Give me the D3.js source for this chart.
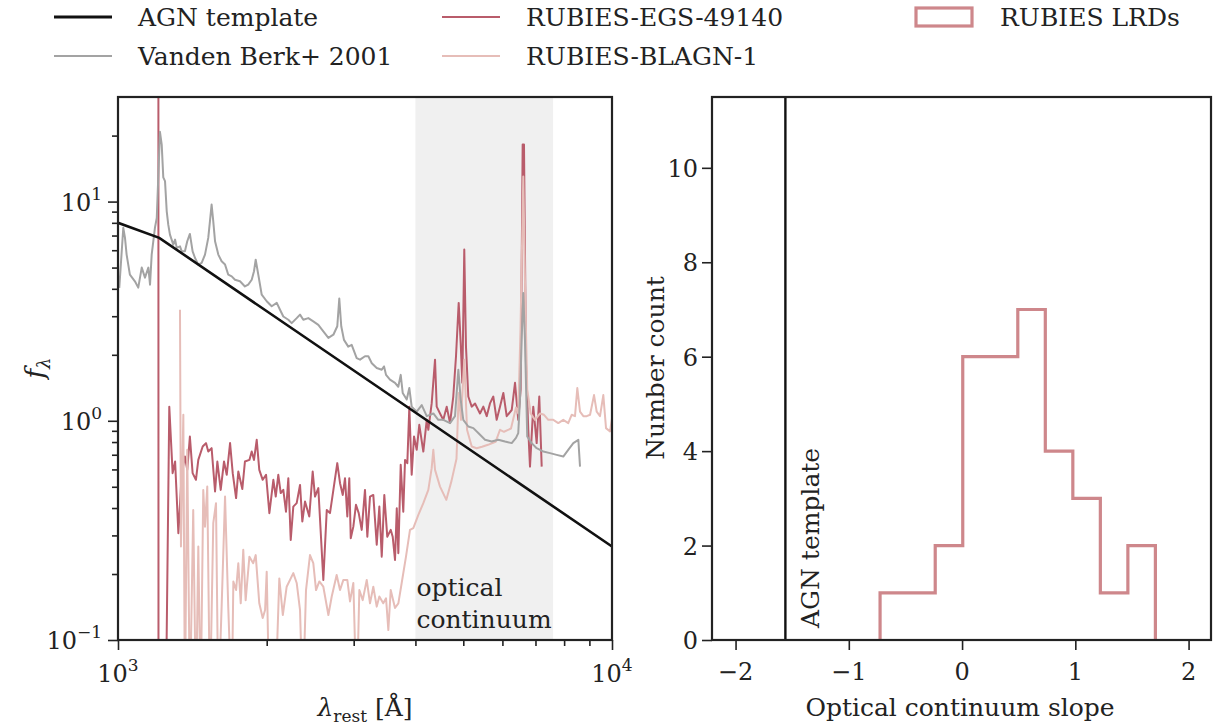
<!DOCTYPE html>
<html>
<head>
<meta charset="utf-8">
<script src="https://cdn.jsdelivr.net/npm/d3@7"></script>
<style>
  body { margin: 0; background: #fff; }
  svg text { font-family: "DejaVu Serif", serif; fill: #222; }
</style>
</head>
<body>
<div id="chart"></div>
<script>
// ---- data ----
const agnTemplate = [[1000, 8.0], [1212, 6.83], [10000, 0.267]];

const vandenBerk = [[1006,4.04],[1025,7.59],[1033,6.85],[1041,5.73],[1057,4.64],[1082,4.33],[1099,4.05],[1117,5.00],[1134,4.50],[1152,5.00],[1161,4.18],[1170,5.73],[1188,7.61],[1198,8.42],[1216,20.8],[1226,18.2],[1235,12.9],[1245,12.4],[1255,9.03],[1264,7.85],[1274,7.07],[1294,6.36],[1305,6.71],[1315,6.15],[1335,6.25],[1346,5.93],[1366,5.93],[1381,6.59],[1398,7.12],[1416,5.93],[1432,5.53],[1454,5.16],[1477,5.25],[1500,5.73],[1523,6.83],[1535,8.13],[1547,9.69],[1559,8.13],[1572,6.59],[1596,5.73],[1621,5.34],[1647,5.16],[1672,4.64],[1699,4.56],[1725,4.40],[1766,4.33],[1807,4.10],[1835,4.18],[1865,4.40],[1885,4.81],[1900,5.43],[1923,4.64],[1954,3.76],[2000,3.51],[2047,3.33],[2096,3.45],[2128,3.21],[2161,2.99],[2212,2.89],[2247,2.79],[2300,2.94],[2336,3.05],[2372,2.89],[2428,2.94],[2485,2.84],[2544,2.74],[2604,2.56],[2666,2.39],[2729,2.47],[2779,2.70],[2805,3.61],[2831,2.70],[2867,2.34],[2925,2.18],[2972,2.22],[3042,1.93],[3090,1.90],[3162,1.97],[3212,1.97],[3264,1.83],[3340,1.74],[3419,1.71],[3456,1.77],[3488,1.62],[3553,1.54],[3637,1.49],[3693,1.43],[3735,1.62],[3770,1.34],[3841,1.25],[3888,1.41],[3931,1.16],[4024,1.10],[4120,1.18],[4217,1.05],[4348,1.08],[4450,1.01],[4555,1.01],[4700,0.976],[4811,1.05],[4886,1.71],[4940,1.25],[5000,1.01],[5118,0.942],[5240,0.926],[5362,0.879],[5533,0.819],[5706,0.804],[5885,0.819],[6073,0.804],[6266,0.791],[6392,0.836],[6460,0.879],[6512,1.25],[6563,2.34],[6613,3.83],[6665,2.34],[6736,0.848],[6877,0.791],[7039,0.750],[7261,0.724],[7490,0.712],[7727,0.699],[7968,0.687],[8155,0.737],[8350,0.791],[8548,0.819],[8615,0.618]];

const rubiesEGS = [[1207,500],[1208,0.001],[1240,0.01],[1270,1.16],[1290,0.577],[1305,0.652],[1325,0.307],[1346,0.577],[1366,0.687],[1381,0.597],[1398,0.848],[1416,0.577],[1438,0.538],[1454,0.663],[1484,0.763],[1507,0.791],[1523,0.724],[1547,0.750],[1572,0.476],[1589,0.652],[1614,0.484],[1639,0.652],[1660,0.567],[1686,0.791],[1707,0.577],[1734,0.444],[1752,0.587],[1785,0.488],[1807,0.652],[1845,0.663],[1865,0.724],[1885,0.663],[1909,0.819],[1932,0.597],[1963,0.538],[1994,0.567],[2025,0.379],[2063,0.538],[2086,0.451],[2111,0.567],[2135,0.468],[2161,0.484],[2188,0.385],[2212,0.547],[2237,0.286],[2264,0.406],[2300,0.421],[2336,0.510],[2361,0.347],[2391,0.428],[2439,0.366],[2478,0.587],[2505,0.451],[2544,0.493],[2604,0.188],[2646,0.392],[2686,0.379],[2729,0.484],[2779,0.641],[2815,0.519],[2851,0.459],[2881,0.547],[2912,0.366],[2939,0.547],[2959,0.291],[2995,0.329],[3032,0.414],[3071,0.379],[3114,0.318],[3162,0.484],[3197,0.296],[3237,0.451],[3287,0.459],[3340,0.272],[3381,0.406],[3419,0.240],[3460,0.459],[3508,0.296],[3565,0.318],[3598,0.296],[3637,0.232],[3667,0.399],[3694,0.249],[3735,0.630],[3780,0.385],[3811,0.663],[3852,0.641],[3888,1.16],[3931,0.567],[3974,0.848],[4024,0.737],[4073,0.959],[4150,0.724],[4217,1.01],[4248,0.910],[4315,1.20],[4383,1.90],[4417,1.16],[4486,1.08],[4555,1.01],[4628,1.16],[4700,0.976],[4772,1.29],[4833,1.97],[4894,3.45],[4940,2.26],[4977,1.49],[5023,6.04],[5063,2.18],[5118,1.29],[5200,1.16],[5281,1.20],[5405,1.08],[5489,1.16],[5577,1.05],[5662,1.20],[5751,1.29],[5842,1.01],[5933,1.16],[6026,1.34],[6121,1.05],[6266,1.12],[6363,1.49],[6460,1.01],[6533,1.39],[6594,18.2],[6635,18.2],[6697,1.83],[6769,0.910],[6823,0.618],[6928,1.16],[7039,0.791],[7125,1.29],[7206,0.618]];

const rubiesBLAGN = [[1335,3.21],[1341,0.267],[1356,1.065],[1366,0.05],[1381,0.737],[1398,0.05],[1420,0.392],[1438,0.05],[1454,0.267],[1470,0.05],[1488,0.484],[1500,0.329],[1516,0.501],[1535,0.05],[1559,0.341],[1579,0.421],[1596,0.05],[1621,0.142],[1647,0.451],[1672,0.140],[1699,0.05],[1712,0.185],[1734,0.169],[1752,0.224],[1772,0.147],[1793,0.258],[1813,0.152],[1845,0.240],[1878,0.224],[1900,0.244],[1932,0.147],[1963,0.126],[1985,0.137],[2000,0.205],[2025,0.05],[2080,0.05],[2121,0.191],[2156,0.130],[2195,0.175],[2264,0.202],[2300,0.182],[2336,0.137],[2366,0.05],[2402,0.169],[2447,0.244],[2485,0.224],[2517,0.169],[2556,0.185],[2604,0.175],[2666,0.130],[2708,0.158],[2771,0.198],[2815,0.169],[2859,0.188],[2912,0.188],[2949,0.150],[2995,0.182],[3042,0.05],[3080,0.169],[3129,0.152],[3188,0.188],[3237,0.147],[3287,0.175],[3340,0.142],[3381,0.158],[3443,0.147],[3488,0.155],[3526,0.111],[3565,0.169],[3637,0.140],[3694,0.147],[3752,0.182],[3828,0.240],[3900,0.318],[3961,0.324],[4055,0.372],[4150,0.421],[4248,0.484],[4315,0.608],[4348,0.737],[4383,0.597],[4486,0.501],[4620,0.436],[4733,0.532],[4844,0.671],[4894,1.34],[4946,1.01],[5023,1.90],[5088,0.910],[5200,0.763],[5322,0.750],[5456,0.761],[5610,0.777],[5813,0.802],[5933,0.910],[6045,0.891],[6245,0.922],[6392,1.15],[6460,1.08],[6528,2.60],[6613,13.0],[6674,3.69],[6736,1.39],[6845,1.08],[6985,1.01],[7151,1.08],[7284,1.065],[7431,1.01],[7606,1.01],[7785,0.976],[7968,1.01],[8155,0.976],[8286,1.065],[8416,1.05],[8507,1.41],[8615,1.10],[8750,1.05],[8889,1.05],[9028,1.065],[9196,1.31],[9312,1.10],[9456,1.05],[9603,1.31],[9725,0.926],[9908,0.894],[10024,1.065]];

const opticalBand = [4000, 7600];

const binEdges = [-0.724, -0.481, -0.237, 0.006, 0.249, 0.492, 0.735, 0.978, 1.221, 1.464, 1.707];
const binCounts = [1, 1, 2, 6, 6, 7, 4, 3, 1, 2];
const agnSlope = -1.56;

const specXMajor = [1000, 10000];
const specXMinor = [2000, 3000, 4000, 5000, 6000, 7000, 8000, 9000];
const specYMajor = [0.1, 1, 10];
const specYMinor = [0.2, 0.3, 0.4, 0.5, 0.6, 0.7, 0.8, 0.9, 2, 3, 4, 5, 6, 7, 8, 9, 20];
const histXTicks = [-2, -1, 0, 1, 2];
const histYTicks = [0, 2, 4, 6, 8, 10];

// ---- colours ----
const cBlack = "#111", cGrey = "#a3a3a3", cRed = "#b95c6b", cPink = "#e6bdb8", cHist = "#ce878b";

const svg = d3.select("#chart").append("svg")
  .attr("width", 1213)
  .attr("height", 728);

// ================= left panel: spectra =================
const x = d3.scaleLog().domain([1000, 10000]).range([118, 612]);
const y = d3.scaleLog().domain([0.1, 30]).range([640, 97]);

svg.append("clipPath").attr("id", "clipL")
  .append("rect").attr("x", 118).attr("y", 97).attr("width", 494).attr("height", 543);

const left = svg.append("g").attr("clip-path", "url(#clipL)");

left.append("rect")
  .attr("x", x(opticalBand[0]))
  .attr("y", 97)
  .attr("width", x(opticalBand[1]) - x(opticalBand[0]))
  .attr("height", 543)
  .attr("fill", "#f0f0f0");

const line = d3.line().x(d => x(d[0])).y(d => y(d[1]));

left.append("path").datum(rubiesEGS)
  .attr("d", line).attr("fill", "none")
  .attr("stroke", cRed).attr("stroke-width", 2).attr("stroke-linejoin", "round");

left.append("path").datum(rubiesBLAGN)
  .attr("d", line).attr("fill", "none")
  .attr("stroke", cPink).attr("stroke-width", 2).attr("stroke-linejoin", "round");

left.append("path").datum(vandenBerk)
  .attr("d", line).attr("fill", "none")
  .attr("stroke", cGrey).attr("stroke-width", 2).attr("stroke-linejoin", "round");

left.append("path").datum(agnTemplate)
  .attr("d", line).attr("fill", "none")
  .attr("stroke", cBlack).attr("stroke-width", 2.6);

left.append("text")
  .attr("x", x(opticalBand[0]) + 1).attr("y", 596)
  .attr("font-size", 25).text("optical");
left.append("text")
  .attr("x", x(opticalBand[0]) + 1).attr("y", 628)
  .attr("font-size", 25).text("continuum");

// ticks
function ticks(g, axis) {
  g.call(axis);
  g.select(".domain").remove();
  g.selectAll(".tick line").attr("stroke", "#222").attr("stroke-width", 1.6);
}
svg.append("g").attr("transform", "translate(0,640)")
  .call(ticks, d3.axisBottom(x).tickValues(specXMajor).tickSize(10).tickFormat(""));
svg.append("g").attr("transform", "translate(0,640)")
  .call(ticks, d3.axisBottom(x).tickValues(specXMinor).tickSize(6).tickFormat(""));
svg.append("g").attr("transform", "translate(118,0)")
  .call(ticks, d3.axisLeft(y).tickValues(specYMajor).tickSize(10).tickFormat(""));
svg.append("g").attr("transform", "translate(118,0)")
  .call(ticks, d3.axisLeft(y).tickValues(specYMinor).tickSize(6).tickFormat(""));

function powLabel(sel, exp) {
  sel.append("tspan").text("10");
  sel.append("tspan").attr("dy", -11).attr("font-size", 17).text(exp);
}
specXMajor.forEach(v => {
  svg.append("text").attr("x", x(v)).attr("y", 682)
    .attr("text-anchor", "middle").attr("font-size", 24)
    .call(powLabel, String(Math.round(Math.log10(v))));
});
specYMajor.forEach(v => {
  const e = Math.round(Math.log10(v));
  svg.append("text").attr("x", 102).attr("y", y(v) + 9)
    .attr("text-anchor", "end").attr("font-size", 24)
    .call(powLabel, e < 0 ? "\u2212" + Math.abs(e) : String(e));
});

svg.append("rect").attr("x", 118).attr("y", 97).attr("width", 494).attr("height", 543)
  .attr("fill", "none").attr("stroke", "#222").attr("stroke-width", 2.2);

// axis labels
const xl = svg.append("text").attr("x", 365).attr("y", 716)
  .attr("text-anchor", "middle").attr("font-size", 25);
xl.append("tspan").attr("font-style", "italic").text("\u03bb");
xl.append("tspan").attr("dy", 6).attr("font-size", 17).text("rest");
xl.append("tspan").attr("dy", -6).text(" [\u00c5]");

const yl = svg.append("text").attr("transform", "translate(44,368) rotate(-90)")
  .attr("text-anchor", "middle").attr("font-size", 26);
yl.append("tspan").attr("font-style", "italic").text("f");
yl.append("tspan").attr("dy", 6).attr("font-size", 18).attr("font-style", "italic").text("\u03bb");

// ================= right panel: histogram =================
const xh = d3.scaleLinear().domain([-2.208, 2.198]).range([712, 1211]);
const yh = d3.scaleLinear().domain([0, 11.5]).range([640, 97]);

const stepPts = [[binEdges[0], 0]];
binCounts.forEach((c, i) => {
  stepPts.push([binEdges[i], c]);
  stepPts.push([binEdges[i + 1], c]);
});
stepPts.push([binEdges[binEdges.length - 1], 0]);

svg.append("path").datum(stepPts)
  .attr("d", d3.line().x(d => xh(d[0])).y(d => yh(d[1])))
  .attr("fill", "none").attr("stroke", cHist).attr("stroke-width", 3.2);

svg.append("line")
  .attr("x1", xh(agnSlope)).attr("x2", xh(agnSlope))
  .attr("y1", yh(0)).attr("y2", yh(11.5))
  .attr("stroke", cBlack).attr("stroke-width", 2.4);

svg.append("text")
  .attr("transform", `translate(${xh(agnSlope) + 34},628) rotate(-90)`)
  .attr("font-size", 25).text("AGN template");

svg.append("g").attr("transform", "translate(0,640)")
  .call(ticks, d3.axisBottom(xh).tickValues(histXTicks).tickSize(10).tickFormat(""));
svg.append("g").attr("transform", "translate(712,0)")
  .call(ticks, d3.axisLeft(yh).tickValues(histYTicks).tickSize(10).tickFormat(""));

histXTicks.forEach(v => {
  svg.append("text").attr("x", xh(v)).attr("y", 680)
    .attr("text-anchor", "middle").attr("font-size", 24)
    .text(v < 0 ? "\u2212" + Math.abs(v) : String(v));
});
histYTicks.forEach(v => {
  svg.append("text").attr("x", 698).attr("y", yh(v) + 9)
    .attr("text-anchor", "end").attr("font-size", 24).text(v);
});

svg.append("rect").attr("x", 712).attr("y", 97).attr("width", 499).attr("height", 543)
  .attr("fill", "none").attr("stroke", "#222").attr("stroke-width", 2.2);

svg.append("text").attr("x", 960).attr("y", 716)
  .attr("text-anchor", "middle").attr("font-size", 25).text("Optical continuum slope");
svg.append("text").attr("transform", "translate(664,368) rotate(-90)")
  .attr("text-anchor", "middle").attr("font-size", 25).text("Number count");

// ================= legend =================
const legendLines = [
  { label: "AGN template", color: cBlack, w: 3, lx: 54, ly: 17 },
  { label: "Vanden Berk+ 2001", color: cGrey, w: 2, lx: 54, ly: 56 },
  { label: "RUBIES-EGS-49140", color: cRed, w: 2, lx: 442, ly: 17 },
  { label: "RUBIES-BLAGN-1", color: cPink, w: 2, lx: 442, ly: 56 }
];
legendLines.forEach(d => {
  svg.append("line").attr("x1", d.lx).attr("x2", d.lx + 58)
    .attr("y1", d.ly).attr("y2", d.ly)
    .attr("stroke", d.color).attr("stroke-width", d.w);
  svg.append("text").attr("x", d.lx + 84).attr("y", d.ly + 9)
    .attr("font-size", 25).text(d.label);
});
svg.append("rect").attr("x", 916).attr("y", 8).attr("width", 56).attr("height", 18)
  .attr("fill", "none").attr("stroke", cHist).attr("stroke-width", 3.2);
svg.append("text").attr("x", 1000).attr("y", 26)
  .attr("font-size", 25).text("RUBIES LRDs");
</script>
</body>
</html>
